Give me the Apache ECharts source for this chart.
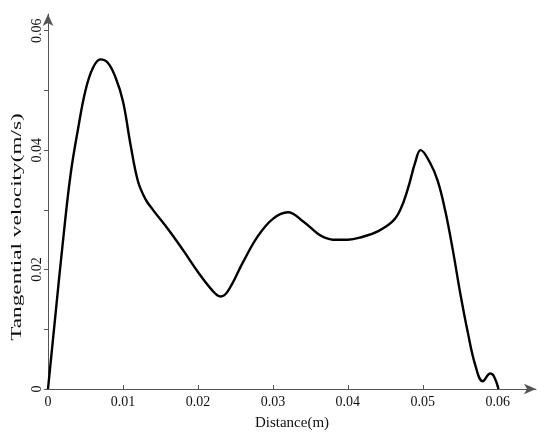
<!DOCTYPE html>
<html>
<head>
<meta charset="utf-8">
<script src="https://cdn.jsdelivr.net/npm/echarts@6/dist/echarts.min.js"></script>
<style>
  html, body { margin: 0; padding: 0; background: #fff; }
  #chart { width: 550px; height: 436px; }
</style>
</head>
<body>
<div id="chart"></div>
<script>
// distance (m) and tangential velocity (m/s)
const distance = [
  0, 0.001, 0.002, 0.003, 0.004, 0.005, 0.006, 0.007, 0.008, 0.009,
  0.010, 0.011, 0.012, 0.013, 0.014, 0.016, 0.018, 0.020, 0.022, 0.023,
  0.024, 0.026, 0.028, 0.030, 0.032, 0.034, 0.036, 0.037, 0.038, 0.040,
  0.042, 0.044, 0.046, 0.047, 0.048, 0.049, 0.0497, 0.051, 0.052, 0.053,
  0.054, 0.055, 0.056, 0.057, 0.058, 0.059, 0.0595, 0.0601
];
const velocity = [
  0, 0.0125, 0.0248, 0.0358, 0.0435, 0.0500, 0.0538, 0.0552, 0.0546, 0.0522,
  0.0482, 0.0410, 0.0348, 0.0318, 0.0300, 0.0268, 0.0233, 0.0196, 0.0164, 0.0155,
  0.0164, 0.0212, 0.0256, 0.0285, 0.0296, 0.0281, 0.0260, 0.0253, 0.0250, 0.0250,
  0.0255, 0.0264, 0.0281, 0.0300, 0.0335, 0.0380, 0.0400, 0.0378, 0.0348, 0.0298,
  0.0233, 0.0160, 0.0095, 0.0040, 0.0013, 0.0026, 0.0021, 0
];
const xTicks = [0, 0.01, 0.02, 0.03, 0.04, 0.05, 0.06];
const yTicks = [0, 0.01, 0.02, 0.03, 0.04, 0.05, 0.06];
const yLabels = [0, 0.02, 0.04, 0.06];

const chart = echarts.init(document.getElementById('chart'));
const font = 'Liberation Serif';
const axisColor = '#555';

chart.setOption({
  animation: false,
  grid: { left: 48, right: 14, top: 14, bottom: 45 },
  // y-axis title is drawn stretched along its length, as in the figure
  graphic: [{
    type: 'text',
    x: 17,
    y: 227,
    rotation: Math.PI / 2,
    scaleX: 1.55,
    style: {
      text: 'Tangential velocity(m/s)',
      fontFamily: font,
      fontSize: 15,
      fill: '#111',
      align: 'center',
      verticalAlign: 'middle'
    }
  }],
  xAxis: {
    type: 'value',
    min: 0,
    max: 0.0651,
    name: 'Distance(m)',
    nameLocation: 'middle',
    nameGap: 27,
    nameTextStyle: { fontFamily: font, fontSize: 15, color: '#111' },
    axisLine: {
      lineStyle: { color: axisColor, width: 1 },
      symbol: ['none', 'arrow'],
      symbolSize: [8, 12]
    },
    axisTick: { inside: true, length: 4, customValues: xTicks, lineStyle: { color: axisColor } },
    axisLabel: {
      customValues: xTicks,
      fontFamily: font, fontSize: 14, color: '#111', margin: 6,
      formatter: v => String(v)
    },
    splitLine: { show: false }
  },
  yAxis: {
    type: 'value',
    min: 0,
    max: 0.0628,
    axisLine: {
      lineStyle: { color: axisColor, width: 1 },
      symbol: ['none', 'arrow'],
      symbolSize: [8, 12]
    },
    axisTick: { length: 4, customValues: yTicks, lineStyle: { color: axisColor } },
    axisLabel: {
      customValues: yLabels,
      rotate: 90,
      fontFamily: font, fontSize: 14, color: '#111', margin: 4,
      formatter: v => String(v)
    },
    splitLine: { show: false }
  },
  series: [{
    type: 'line',
    data: distance.map((d, i) => [d, velocity[i]]),
    smooth: 0.4,
    showSymbol: false,
    lineStyle: { color: '#000', width: 2.4 }
  }]
});
</script>
</body>
</html>
